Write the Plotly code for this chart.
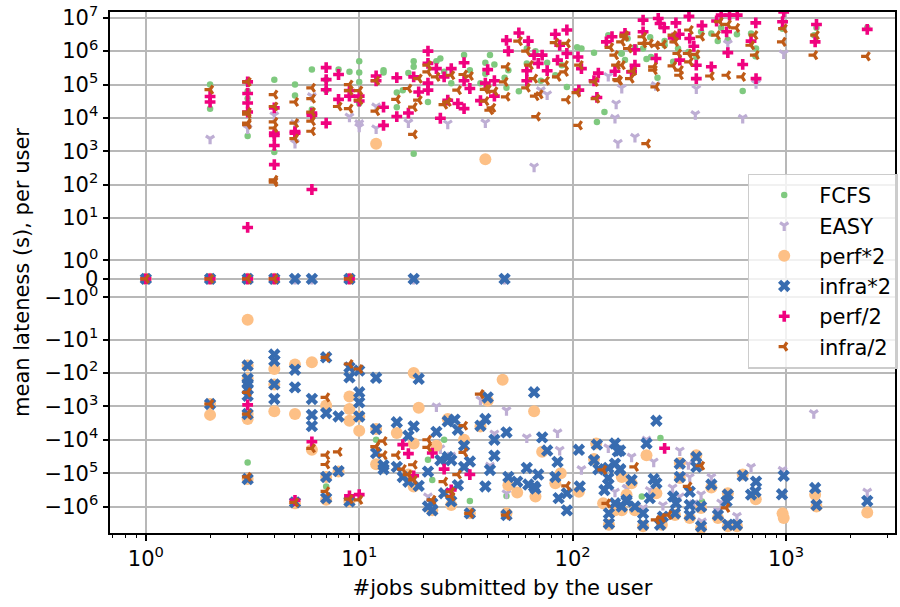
import math
import plotly.graph_objects as go

series_names = ["FCFS", "EASY", "perf*2", "infra*2", "perf/2", "infra/2"]
zero_jobs_all = [1, 2, 3, 4, 9]
zero_jobs_extra = [5, 6, 18, 48]

fcfs_points = [(2,1e5),(2,1.9e4),(3,1.2e5),(3,6.3e4),(3,3.8e4),(3,2.9e3),(4,1.4e5),(4,950),(5,1e5),(5,4.7e4),(6,2.8e5),(6,1.8e4),(7,6.7e4),(7,1.4e5),(8,2.8e5),(9,2.4e5),(10,5e5),(10,2.3e5),(10,1.2e5),(10,2.7e4),
(13,2.7e5),(13,2.3e5),(15,5.8e4),(16,6.8e4),(15,2.1e4),(17,2.2e5),(18,5e5),(18,3.4e5),(21,3e4),(23,5e5),(24,6e5),(25,2.4e5),(31,7.6e5),(27,1.1e5),(33,2.7e5),(39,4.5e5),(39,2.1e5),(41,7.6e5),(43,4e5),(37,1.1e5),(48,1.6e5),(49,8e4),(50,2.7e5),(56,6.3e4),(61,1.2e6),(61,4.3e5),(67,1e6),(71,1.3e5),(76,4.5e5),(83,1.9e5),(94,8.5e4),(89,3.8e5),(105,1.3e6),(110,1.2e6),(126,9e5),(141,1.5e4),(130,7.6e3),(147,3e6),(170,8.5e5),(176,5.4e5),(18,840),
(2404,5e6),(1390,5e6),(1355,3e6),(964,4.7e6),(686,3.4e6),(589,3.2e6),(534,2.2e6),(479,2e6),(447,3.4e6),(497,5e6),(400,3.8e6),(270,2e6),(231,2.6e6),(181,2.4e6),(196,1.3e6),(214,1.2e6),(270,1.5e6),(312,1.2e6),(349,9.5e5),(380,6.7e5),(724,1.2e6),(720,7e5),(222,5.8e5),(233,6.7e5),(296,4.8e5),(250,1.6e5),(627,6.4e4),(169,8.5e5),
(3,-4.8e4),(5,-8e5),(7,-2.5e5),(12,-1e4),(25,-1e4),(21,-4e4),(22,-1.6e5),(33,-6.8e5),(49,-4.8e5),(258,-8.8e3),(404,-7e5),(211,-5e5)]

easy_points = [(2,2.4e3),(3,4.9e3),(4,1.2e4),(5,7e3),(5,1.8e3),(6,4.5e4),(9,1.1e4),(10,7e3),(10,5.5e3),(12,4.9e3),(12,2.2e4),
(17,7.3e3),(26,6.8e3),(39,7.3e3),(71,6.8e4),(76,5.1e4),(66,350),(147,1.8e5),(160,2.7e4),(158,1e4),(163,1.8e3),(170,8e4),
(534,1.7e6),(976,8.5e5),(380,7.6e4),(724,1.1e5),(245,9.6e4),(376,1.3e4),(627,1e4),(196,2.7e3),
(23,-1e3),(49,-1.3e3),(37,-620),(61,-8.5e3),(43,-6.5e3),(85,-6e3),(87,-2e4),(110,-7.6e4),(147,-1.7e4),(21,-5e5),(49,-4e5),(41,-6e4),(27,-3e4),(24,-1.8e4),(158,-3.6e5),(179,-2.8e5),
(1350,-1.6e3),(222,-1e4),(318,-2.1e4),(189,-3.2e4),(240,-4.5e4),(349,-5.4e4),(354,-1.3e5),(294,-2.7e5),(400,-4.3e5),(447,-1.3e5),(686,-6.5e4),(964,-8e4),(2404,-3.6e5),(181,-2.8e5),(230,-3.2e5),(318,-5e5),(265,-9e5),(370,-8e5),(480,-1.3e6),(497,-7.6e5),(589,-1.9e6),(214,-1.1e6),(404,-2.8e6)]

perf_x2_points = [(12,1.7e3),(39,580),
(2,-1.8e3),(2,-850),(3,-3.4),(3,-60),(3,-150),(3,-1.7e3),(3,-2.4e3),(3,-1.5e5),(4,-76),(4,-220),(4,-1.4e3),(5,-56),(5,-1.7e3),(5,-8e5),(6,-48),(6,-2e4),(7,-950),(7,-1.3e5),(7,-6.3e5),(8,-9e4),(9,-510),(9,-1.2e3),(9,-2.7e3),(9,-7e5),(10,-5.4e3),(10,-2e3),(12,-5.4e4),(12,-4.8e3),
(18,-100),(47,-160),(19,-1.1e3),(66,-1.4e3),(15,-6.3e3),(18,-1.3e4),(23,-1.5e4),(26,-2.4e3),(31,-1e4),(17,-1.1e5),(18,-2.5e5),(27,-9e5),(22,-1.3e6),(33,-1.6e6),(49,-1.6e6),(40,-680),(37,-4e3),(72,-2.3e4),(126,-3.8e4),(129,-1.3e4),(83,-2e5),(88,-1e5),(50,-2.3e5),(55,-3.8e5),(67,-5e5),(107,-3.6e5),(139,-8e5),(158,-1.3e6),(148,-3.5e6),(179,-4.4e5),
(222,-2.9e4),(380,-2.9e4),(318,-5e4),(170,-1.3e5),(318,-1.4e5),(247,-4e5),(447,-2.7e5),(534,-4e5),(722,-6e5),(627,-1.1e5),(964,-1.6e6),(976,-2.2e6),(1370,-4.4e5),(1390,-1e6),(2404,-1.5e6),(189,-2e5),(170,-1.3e6),(196,-1.3e6),(354,-2.2e6),(302,-1.8e6),(400,-1.1e6),(480,-2.2e6),(262,-3.5e6),(214,-3.9e6),(589,-3.9e6),(534,-3.9e6),(400,-4.4e6)]

infra_x2_points = [(2,-850),(3,-60),(3,-150),(3,-210),(3,-300),(3,-480),(3,-1.7e3),(3,-1.5e5),(4,-28),(4,-43),(4,-220),(4,-600),(5,-80),(5,-270),(5,-7.5e5),(6,-600),(6,-1.8e3),(6,-3.9e3),(7,-34),(7,-1.6e3),(7,-1.3e5),(7,-5.6e5),(8,-2e3),(8,-8.7e4),(9,-68),(9,-135),(9,-7e5),(10,-85),(10,-380),(10,-760),(10,-2e3),(12,-140),(12,-4.8e3),(12,-2.5e4),
(15,-3e3),(17,-7.6e3),(18,-4e3),(19,-150),(23,-5.8e3),(26,-2.8e3),(28,-2.5e3),(29,-5e3),(31,-1.5e4),(37,-3.8e3),(39,-2.4e3),(40,-540),(43,-1e4),(43,-3e4),(66,-380),(49,-6e3),(72,-8.5e3),(76,-2.1e4),(85,-4.6e4),(107,-2e4),(130,-1.4e4),(158,-1.3e4),(163,-2.2e4),(158,-5.2e4),(167,-7.6e4),(147,-7e4),(126,-4.1e4),(132,-7.6e4),(13,-5.8e4),(13,-7.6e4),(15,-6.5e4),(16,-1.3e5),(17,-1.8e5),(19,-2.4e5),(21,-9e4),(21,-1e6),(22,-1.3e6),(25,-4e5),(27,-7e5),(24,-4.1e4),(26,-3.3e4),(27,-4.1e4),(31,-6.5e4),(33,-4.5e4),(29,-2.3e5),(39,-2.5e5),(41,-8e4),(50,-1.3e5),(55,-1.8e5),(61,-7e4),(62,-2.2e5),(66,-2.5e5),(69,-1.1e5),(67,-2.9e5),(83,-1.3e5),(86,-5.6e5),(94,-4e5),(94,-1.3e6),(108,-2.5e5),(141,-3.2e5),(147,-1.4e5),(147,-2.2e5),(148,-1.6e6),(148,-3.2e6),(158,-8e5),(179,-6.3e5),(22,-8e5),(33,-1.6e6),(49,-1.8e6),
(247,-2.7e3),(222,-1.3e4),(380,-3.3e4),(318,-5.2e4),(380,-6.5e4),(318,-1.3e5),(240,-1.5e5),(247,-2e5),(447,-2.2e5),(534,-4.4e5),(527,-7e5),(686,-4.4e5),(724,-1.8e5),(720,-3.6e5),(627,-1.2e5),(976,-1.2e5),(958,-4.3e5),(1370,-2.8e5),(1390,-9e5),(2404,-6.8e5),(189,-1.6e5),(167,-2.1e4),(167,-8e4),(296,-5e5),(305,-8e5),(354,-3.6e5),(354,-9e5),(354,-1.8e6),(302,-1.6e6),(400,-1e6),(400,-3.9e6),(480,-1.8e6),(534,-3.5e6),(589,-3.5e6),(265,-2e6),(257,-3.5e6),(230,-5.6e5),(214,-1.6e6),(214,-3.5e6),(196,-1e6),(179,-7e5),(170,-1e6)]

perf_half_points = [(2,4.4e4),(2,3e4),(3,1.2e5),(3,5.4e4),(3,2.8e4),(3,1.5e4),(3,6),(4,2e4),(4,3.5e3),(4,3e3),(4,1.5e3),(4,400),(5,3.9e3),(5,3.5e3),(6,1.4e4),(6,1.2e4),(6,72),(7,3.2e5),(7,1.4e5),(7,7e4),(7,7e3),(8,2e5),(8,3.6e4),(9,6.6e4),(9,4.5e4),(10,4.5e4),(10,3.2e4),(12,1.8e5),
(12,1.3e5),(13,2.1e4),(13,6e3),(15,1.6e5),(15,1.1e4),(17,1.4e4),(18,1.7e5),(19,6e4),(21,1e6),(21,4.3e5),(21,1.1e5),(21,6.8e4),(23,3e5),(24,9.8e3),(26,3.4e4),(25,1.7e5),(27,3e5),(29,2.7e4),(31,1.9e4),(31,4.5e5),(31,1.3e5),(33,7.6e4),(37,3.3e4),(39,1.1e5),(40,2.8e5),(43,1.3e5),(43,4.5e4),(49,2.1e6),(50,1e6),(56,3.5e6),(62,2e6),(61,2.6e5),(61,1.3e5),(66,7.6e5),(69,4.3e5),(72,7.6e5),(76,2.6e5),(83,3.2e6),(85,5.4e5),(87,1.5e6),(94,4.3e6),(94,8.5e5),(106,6.7e5),(110,3e5),(132,2.2e5),(126,1.3e5),(107,6.8e4),(130,4.1e4),(158,2.5e5),(144,1.9e6),(153,2.7e6),(176,3.4e6),
(214,8.5e6),(252,9.5e6),(257,6.7e6),(269,5e6),(305,7e6),(351,1.1e7),(497,1.2e7),(544,1.2e7),(591,1.2e7),(404,5.8e6),(473,8e6),(527,3.8e6),(722,7e6),(964,7.6e6),(976,1.5e7),(1390,6.3e6),(2404,4.5e6),(1370,1.9e6),(214,3.8e6),(316,3.2e6),(354,2.4e6),(296,2.5e6),(370,1.4e6),(196,1.1e6),(534,9e5),(246,6e5),(318,5.4e5),(380,3.8e5),(196,3.8e5),(189,2.4e5),(447,3.4e5),(627,4e5),(380,1.5e5),(724,1.5e5),(686,2e6),
(3,-900),(5,-6.5e5),(6,-1.15e4),(9,-4.8e5),(16,-1.4e4),(17,-2.6e4),(22,-2.5e4),(25,-7.6e4),(33,-1.1e5),(18,-1.2e5),(27,-3.2e5),(10,-4.4e5),(270,-1.8e4)]

infra_half_points = [(2,7e4),(3,1.2e5),(3,1.5e4),(3,1.3e4),(3,7e3),(3,6.3e3),(4,5e4),(4,2.2e4),(4,7.6e3),(4,5e3),(4,140),(4,120),(5,3e4),(5,7e3),(5,2.4e3),(6,8e4),(6,3.8e4),(6,1.5e4),(6,8e3),(6,4e3),(8,2.2e4),(9,1e5),(9,6.6e4),(9,1.9e4),(10,6.6e4),(10,3.4e4),(12,1.3e5),(12,1.6e4),
(15,3.6e4),(17,7.6e4),(19,1.5e5),(19,3.4e4),(18,2.1e4),(18,3.2e3),(21,3.8e5),(21,2.4e5),(23,1.7e5),(25,2.5e4),(26,3e4),(27,1.9e5),(29,6.8e4),(31,2e5),(33,1.8e5),(39,7.2e4),(39,3.2e4),(40,7.2e4),(43,6.3e4),(42,2e4),(41,1.7e4),(48,1.2e5),(49,4.3e4),(49,3.4e5),(56,2e6),(61,1e6),(61,8e4),(66,1.5e5),(67,4.5e4),(70,5.1e4),(68,1.1e4),(63,3.8e5),(75,1.3e5),(83,1.8e6),(94,1.7e6),(85,1.7e5),(92,3.8e5),(92,2.4e5),(94,3.5e4),(107,6e3),(105,5.7e4),(108,3.8e5),(127,1.2e5),(129,3.8e4),(161,3.8e5),(163,1.4e5),(176,2.7e6),(150,1.3e6),(158,7.6e5),
(170,1.9e6),(214,2.7e6),(176,3e6),(214,1.7e6),(230,1.7e6),(246,1.5e6),(265,1.6e6),(296,3e6),(302,1.9e6),(354,4.3e6),(400,2.7e6),(489,7.6e6),(534,6.3e6),(584,5e6),(474,3e6),(711,3e6),(686,1.5e6),(964,1.9e6),(976,4.7e6),(1380,3e6),(1355,7.6e5),(2390,7e5),(720,7.6e5),(183,1.2e6),(312,8.5e5),(349,8.5e5),(380,8e5),(354,4.8e5),(296,3.6e5),(240,3.4e5),(240,2.7e5),(318,2.7e5),(318,1.9e5),(192,2.5e5),(187,1.5e5),(165,1.3e5),(170,3.8e5),(444,1.8e5),(530,1.9e5),(622,1.7e5),(246,8.5e4),(223,1.7e3),
(2,-850),(3,-380),(3,-1.7e3),(3,-1.3e5),(5,-7.5e5),(6,-1.8e4),(7,-34),(7,-540),(7,-2.9e4),(7,-5.5e4),(7,-3.5e5),(8,-2.3e4),(9,-54),(9,-6e5),(10,-76),(12,-1.6e4),
(37,-430),(31,-3.8e3),(13,-1.1e4),(12,-1.6e4),(13,-2.9e4),(15,-2.9e4),(16,-7.6e4),(18,-5.6e4),(17,-1.1e5),(18,-1.6e5),(21,-1e4),(21,-1.7e4),(31,-2.4e4),(25,-1.8e5),(29,-1.1e5),(27,-3.6e5),(27,-5e5),(22,-6.3e5),(33,-1.6e6),(49,-1.8e6),(94,-2.4e5),(139,-8e4),(145,-8e5),(10,-6.3e5),
(196,-6.5e4),(400,-6e4),(349,-2.5e5),(525,-1.1e6),(262,-2.2e6),(247,-2.5e6),(281,-1.8e6)]

y_tick_values = [1e7, 1e6, 1e5, 1e4, 1e3, 1e2, 1e1, 1, 0, -1, -1e1, -1e2, -1e3, -1e4, -1e5, -1e6]
y_tick_labels = ["10<sup>7</sup>", "10<sup>6</sup>", "10<sup>5</sup>", "10<sup>4</sup>", "10<sup>3</sup>", "10<sup>2</sup>", "10<sup>1</sup>", "10<sup>0</sup>", "0",
                 "\u221210<sup>0</sup>", "\u221210<sup>1</sup>", "\u221210<sup>2</sup>", "\u221210<sup>3</sup>", "\u221210<sup>4</sup>", "\u221210<sup>5</sup>", "\u221210<sup>6</sup>"]
x_tick_values = [1, 10, 100, 1000]
x_tick_labels = ["10<sup>0</sup>", "10<sup>1</sup>", "10<sup>2</sup>", "10<sup>3</sup>"]

LIN = 0.557     # height of the 0..1 band, in decades
ONE_TEN = 1.261 # height of the 1..10 band, in decades


def scale(v):
    a = abs(v)
    if a <= 1:
        t = LIN * a
    elif a <= 10:
        t = LIN + ONE_TEN * math.log10(a)
    else:
        t = LIN + ONE_TEN + math.log10(a) - 1
    return t if v >= 0 else -t


def build(points, zero_jobs):
    xs = [p[0] for p in points] + list(zero_jobs)
    ys = [scale(p[1]) for p in points] + [0.0] * len(zero_jobs)
    return xs, ys


styles = [
    (fcfs_points, zero_jobs_all, dict(symbol="circle", size=6.5, color="#7fc97f", line=dict(width=0))),
    (easy_points, zero_jobs_all + zero_jobs_extra, dict(symbol="y-down", size=7, color="#beaed4", line=dict(width=3.2, color="#beaed4"))),
    (perf_x2_points, zero_jobs_all, dict(symbol="circle", size=12, color="#fdc086", line=dict(width=0))),
    (infra_x2_points, zero_jobs_all + zero_jobs_extra, dict(symbol="x", size=11, color="#386cb0", line=dict(width=0))),
    (perf_half_points, zero_jobs_all, dict(symbol="cross", size=9, color="#f0027f", line=dict(width=0))),
    (infra_half_points, zero_jobs_all, dict(symbol="y-left", size=7, color="#bf5b17", line=dict(width=3.2, color="#bf5b17"))),
]

fig = go.Figure()
for name, (pts, zeros, marker) in zip(series_names, styles):
    xs, ys = build(pts, zeros)
    fig.add_trace(go.Scatter(x=xs, y=ys, mode="markers", name=name, marker=marker, legendgroup=name))

FONT = "DejaVu Sans"
FS = 21
fig.update_layout(
    width=900, height=607, autosize=False,
    margin=dict(l=109.5, r=2, t=9.5, b=74, pad=0),
    paper_bgcolor="white", plot_bgcolor="white",
    font=dict(family=FONT, size=FS, color="black"),
    legend=dict(x=0.8125, y=0.69, xanchor="left", yanchor="top", bgcolor="rgba(255,255,255,0.8)",
                bordercolor="#cccccc", borderwidth=1.4, tracegroupgap=0, itemwidth=60,
                font=dict(family=FONT, size=FS), itemsizing="trace"),
    xaxis=dict(type="log", range=[-0.168, 3.511], title=dict(text="#jobs submitted by the user", font=dict(size=FS), standoff=11),
               tickmode="array", tickvals=x_tick_values, ticktext=x_tick_labels, ticks="outside", ticklen=5.5, tickwidth=1.6,
               tickcolor="black", showgrid=True, gridcolor="#b8b8b8", gridwidth=2, showline=True, linecolor="black",
               linewidth=2, mirror=True, zeroline=False, tickfont=dict(size=FS),
               minor=dict(ticks="outside", ticklen=3, tickwidth=1, tickcolor="black", showgrid=False, dtick="D1")),
    yaxis=dict(range=[-7.61, 7.99], title=dict(text="mean lateness (s), per user", font=dict(size=FS), standoff=9),
               tickmode="array", tickvals=[scale(v) for v in y_tick_values], ticktext=y_tick_labels, ticks="outside", ticklen=5.5, tickwidth=1.6,
               tickcolor="black", showgrid=True, gridcolor="#b8b8b8", gridwidth=2, showline=True, linecolor="black",
               linewidth=2, mirror=True, zeroline=False, tickfont=dict(size=FS)),
)
fig.write_html("out.html", config={"displayModeBar": False}, post_script="document.body.style.margin='0';")
